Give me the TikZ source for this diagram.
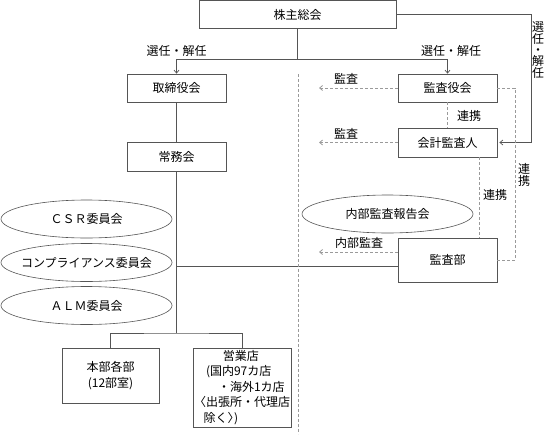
\documentclass[tikz,border=0pt]{standalone}
\usepackage{fontspec}
\setmainfont{Noto Sans CJK JP}
\usetikzlibrary{arrows.meta,calc,shapes.geometric}
\definecolor{ln}{HTML}{555555}
\definecolor{dl}{HTML}{9A9A9A}
\begin{document}
\begin{tikzpicture}[x=1pt,y=-1pt,
  font=\fontsize{12}{15.6}\selectfont,
  box/.style={draw=ln, line width=0.7pt, rectangle, inner sep=0pt, text=black},
  oval/.style={draw=ln, line width=0.6pt, ellipse, inner sep=0pt, minimum width=171pt, minimum height=38pt},
  conn/.style={draw=ln, line width=0.7pt},
  dsh/.style={draw=dl, line width=0.8pt, dash pattern=on 3pt off 2pt},
  tip/.style={-{Straight Barb[length=3pt,width=5pt]}},
  lbl/.style={inner sep=0pt}]
\useasboundingbox (0,0) rectangle (546,434);
% boxes
\node[box, minimum width=197pt, minimum height=28pt] (kabu) at (297.5,14.5) {株主総会};
\node[box, minimum width=99pt, minimum height=28pt] (tori) at (176.5,88) {取締役会};
\node[box, minimum width=99pt, minimum height=28pt] (kansayaku) at (447.5,88) {監査役会};
\node[box, minimum width=99pt, minimum height=29pt] (kaikei) at (447.5,142.5) {会計監査人};
\node[box, minimum width=99pt, minimum height=29pt] (jomu) at (176.5,156.5) {常務会};
\node[box, minimum width=99pt, minimum height=44pt] (kansabu) at (447.5,260) {監査部};
\node[box, minimum width=97pt, minimum height=55pt, align=center] (honbu) at (110.5,375.5) {本部各部\\(12部室)};
\node[box, minimum width=98pt, minimum height=79pt, align=left, inner xsep=1pt] (eigyo) at (242,387.5)
  {\hspace*{2.4em}営業店\\\hspace*{1.0em}(国内97カ店\\\hspace*{2.0em}・海外1カ店\\〈出張所・代理店\\\hspace*{0.8em}除く〉\kern-0.45em)};
% ellipses
\node[oval] (csr) at (86.5,219) {\makebox[0pt]{ＣＳＲ委員会}};
\node[oval] (comp) at (86.5,262.5) {\makebox[0pt]{コンプライアンス委員会}};
\node[oval] (alm) at (86.5,305.5) {\makebox[0pt]{ＡＬＭ委員会}};
\node[oval] (naibu) at (387.5,214) {\makebox[0pt]{内部監査報告会}};
% coordinates
\coordinate (j) at (297.5,59);
\coordinate (rc) at (531,14.5);
\coordinate (b) at (176.5,333);
\coordinate (dt) at (298,74);
\coordinate (db) at (298,434);
\coordinate (a1) at (319,88);
\coordinate (a2) at (319,142.5);
\coordinate (a3) at (319,252);
\coordinate (rd) at (515,88);
% solid connectors
\draw[conn] (kabu.south) -- (j);
\draw[conn,tip] (j) -| (tori.north);
\draw[conn,tip] (j) -| (kansayaku.north);
\draw[conn,tip,shorten >=2pt] (kabu.east) -- (rc) |- (kaikei.east);
\draw[conn] (tori.south) -- (jomu.north);
\draw[conn] (jomu.south) -- (b);
\draw[conn] (honbu.north) |- (b) -| (eigyo.north);
\draw[conn] ([yshift=-6pt]kansabu.west) -- ([yshift=-6pt]kansabu.west -| jomu.south);
% dashed
\draw[dsh] (dt) -- (db);
\draw[dsh,tip] (kansayaku.west) -- (a1);
\draw[dsh,tip] (kaikei.west) -- (a2);
\draw[dsh,tip] ([yshift=8pt]kansabu.west) -- (a3);
\draw[dsh] (kansayaku.south) -- (kaikei.north);
\draw[dsh] ([xshift=-18pt]kaikei.south east) -- ([xshift=-18pt]kansabu.north east);
\draw[dsh] (kansayaku.east) -- (rd) |- (kansabu.east);
% labels
\node[lbl] (l1) at (176.5,51) {選任・解任};
\node[lbl] (l2) at (451,51) {選任・解任};
\node[lbl, align=center, font=\fontsize{12}{11.3}\selectfont] (l3) at (538,50) {選\\任\\・\\解\\任};
\node[lbl] (l4) at (346,79) {監査};
\node[lbl] (l5) at (346,134) {監査};
\node[lbl] (l6) at (359,243) {内部監査};
\node[lbl] (l7) at (469,116) {連携};
\node[lbl] (l8) at (495,195) {連携};
\node[lbl, align=center, font=\fontsize{12}{12.5}\selectfont] (l9) at (524,175) {連\\携};
\end{tikzpicture}
\end{document}
